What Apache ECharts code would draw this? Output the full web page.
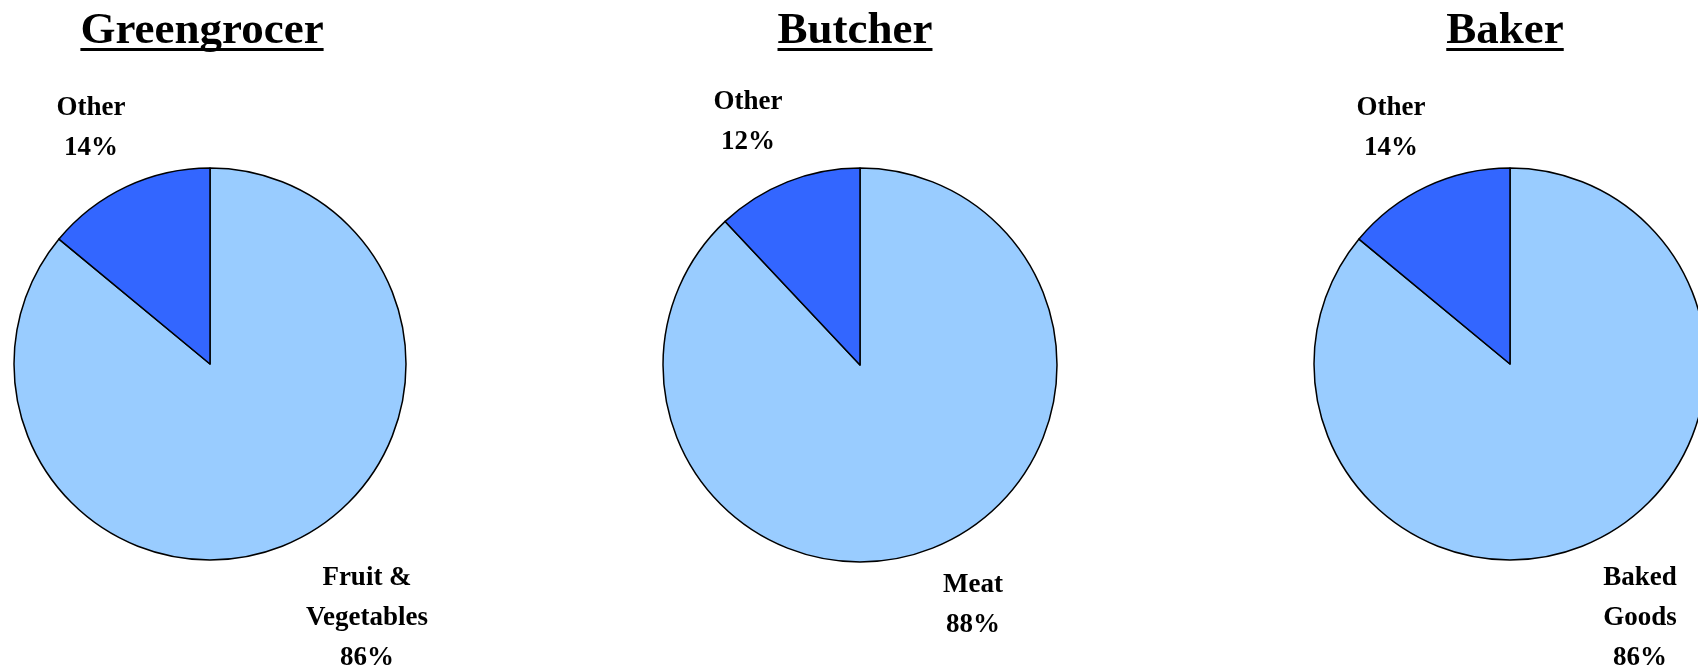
<!DOCTYPE html>
<html>
<head>
<meta charset="utf-8">
<script src="https://cdn.jsdelivr.net/npm/echarts@6/dist/echarts.min.js"></script>
<style>
  html, body { margin: 0; padding: 0; background: #fff; }
  #chart { width: 1698px; height: 668px; }
</style>
</head>
<body>
<div id="chart"></div>
<script>
// Sales split for three shops: main product line vs. everything else (percent)
const shops = ['Greengrocer', 'Butcher', 'Baker'];
const mainCategories = ['Fruit &\nVegetables', 'Meat', 'Baked\nGoods'];
const otherCategory = 'Other';
const mainShares = [86, 88, 86];
const otherShares = [14, 12, 14];

// Layout of each panel (pixels)
const pieCenters = [[210, 364], [860, 365], [1510, 364]];
const pieRadii = [196, 197, 196];
const titleX = [202, 855, 1505];
const titleY = 31;
const underlineY = 48;
// label block centres: [main slice, other slice]
const labelAnchors = [
  [[367, 618], [91, 128]],
  [[973, 605], [748, 122]],
  [[1640, 618], [1391, 128]]
];

const FONT = "'Palatino Linotype', 'Book Antiqua', Palatino, 'Liberation Serif', serif";
const MAIN_COLOR = '#99CCFF';
const OTHER_COLOR = '#3366FF';
const TITLE_SIZE = 45;

function textWidth(text, size) {
  const ctx = document.createElement('canvas').getContext('2d');
  ctx.font = 'bold ' + size + 'px ' + FONT;
  return ctx.measureText(text).width;
}

const chart = echarts.init(document.getElementById('chart'), null, { renderer: 'canvas' });

const series = shops.map((shop, i) => ({
  type: 'pie',
  name: shop,
  center: pieCenters[i],
  radius: pieRadii[i],
  startAngle: 90,
  clockwise: true,
  animation: false,
  silent: true,
  itemStyle: { borderColor: '#000', borderWidth: 1.5 },
  label: {
    show: true,
    position: 'inside',
    overflow: 'none',
    color: '#000',
    fontFamily: FONT,
    fontWeight: 'bold',
    fontSize: 27,
    lineHeight: 40,
    align: 'center',
    formatter: p => p.name + '\n' + p.value + '%'
  },
  labelLine: { show: false },
  labelLayout: params => {
    const pos = labelAnchors[i][params.dataIndex];
    return { x: pos[0], y: pos[1], align: 'center', verticalAlign: 'middle' };
  },
  data: [
    { name: mainCategories[i], value: mainShares[i], itemStyle: { color: MAIN_COLOR } },
    { name: otherCategory, value: otherShares[i], itemStyle: { color: OTHER_COLOR } }
  ]
}));

const graphics = [];
shops.forEach((shop, i) => {
  const w = textWidth(shop, TITLE_SIZE);
  graphics.push({
    type: 'text',
    x: titleX[i],
    y: titleY,
    style: {
      text: shop,
      fill: '#000',
      font: 'bold ' + TITLE_SIZE + 'px ' + FONT,
      align: 'center',
      verticalAlign: 'middle'
    }
  });
  graphics.push({
    type: 'rect',
    shape: { x: titleX[i] - w / 2, y: underlineY, width: w, height: 3 },
    style: { fill: '#000' }
  });
});

chart.setOption({
  backgroundColor: '#fff',
  animation: false,
  series: series,
  graphic: graphics
});
</script>
</body>
</html>
